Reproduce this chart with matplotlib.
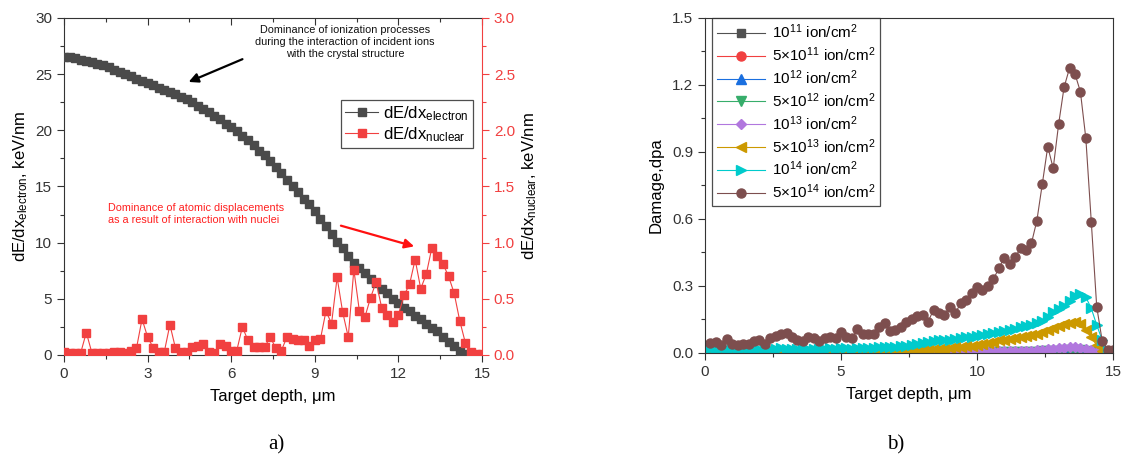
import numpy as np
import matplotlib
matplotlib.use("Agg")
import matplotlib.pyplot as plt
from matplotlib.ticker import MultipleLocator

plt.rcParams['font.family'] = ['Liberation Sans', 'DejaVu Sans']
plt.rcParams['mathtext.default'] = 'regular'

# ---------------- data: panel a) ----------------
depth_e = np.round(np.arange(0, 73) * 0.2, 1)          # 0.0 ... 14.4 um
dedx_electron = [26.5, 26.5, 26.4, 26.3, 26.2, 26.1, 25.9, 25.8, 25.6, 25.4,
                 25.2, 25.0, 24.8, 24.6, 24.4, 24.2, 24.0, 23.8, 23.6, 23.4,
                 23.2, 23.0, 22.8, 22.5, 22.2, 21.9, 21.6, 21.3, 21.0, 20.6,
                 20.3, 19.9, 19.5, 19.1, 18.7, 18.2, 17.8, 17.3, 16.7, 16.2,
                 15.6, 15.0, 14.5, 13.9, 13.4, 12.8, 12.1, 11.5, 10.8, 10.1,
                 9.5, 8.8, 8.2, 7.7, 7.3, 6.8, 6.4, 5.9, 5.5, 5.0,
                 4.6, 4.2, 3.9, 3.5, 3.2, 2.8, 2.4, 2.1, 1.6, 1.2,
                 0.8, 0.4, 0.1]
depth_n = np.round(np.arange(0, 76) * 0.2, 1)          # 0.0 ... 15.0 um
dedx_nuclear = [0.03, 0.02, 0.02, 0.02, 0.20, 0.02, 0.02, 0.02, 0.02, 0.03,
                0.03, 0.02, 0.04, 0.06, 0.32, 0.16, 0.065, 0.03, 0.03, 0.27,
                0.06, 0.03, 0.03, 0.07, 0.08, 0.10, 0.03, 0.02, 0.10, 0.08,
                0.04, 0.04, 0.25, 0.13, 0.07, 0.07, 0.07, 0.16, 0.06, 0.04,
                0.16, 0.14, 0.135, 0.135, 0.08, 0.135, 0.14, 0.39, 0.28, 0.69,
                0.38, 0.16, 0.76, 0.39, 0.34, 0.51, 0.65, 0.42, 0.36, 0.29,
                0.36, 0.53, 0.63, 0.85, 0.59, 0.72, 0.955, 0.88, 0.81, 0.70,
                0.55, 0.305, 0.11, 0.03, 0.01, 0.005]
x_ticks_a = [0, 3, 6, 9, 12, 15]

# ---------------- data: panel b) ----------------
depth_b = np.round(np.arange(1, 76) * 0.2, 1)          # 0.2 ... 15.0 um
fluence_labels = [r'10$^{11}$ ion/cm$^{2}$', r'5$\times$10$^{11}$ ion/cm$^{2}$',
                  r'10$^{12}$ ion/cm$^{2}$', r'5$\times$10$^{12}$ ion/cm$^{2}$',
                  r'10$^{13}$ ion/cm$^{2}$', r'5$\times$10$^{13}$ ion/cm$^{2}$',
                  r'10$^{14}$ ion/cm$^{2}$', r'5$\times$10$^{14}$ ion/cm$^{2}$']
dpa_1e11 = [0.0] * 60 + [0.0001, 0.0001, 0.0002, 0.0002, 0.0002, 0.0002, 0.0003,
                         0.0003, 0.0002, 0.0002, 0.0001, 0.0, 0.0, 0.0, 0.0]
dpa_5e11 = [0.0001] * 45 + [0.0001, 0.0001, 0.0001, 0.0002, 0.0002, 0.0002, 0.0002,
                            0.0002, 0.0002, 0.0003, 0.0003, 0.0003, 0.0003, 0.0004, 0.0005,
                            0.0006, 0.0008, 0.0009, 0.0008, 0.001, 0.0012, 0.0013, 0.0013,
                            0.0012, 0.001, 0.0006, 0.0002, 0.0001, 0.0, 0.0]
dpa_1e12 = [0.0001, 0.0001, 0.0001, 0.0001, 0.0001, 0.0001, 0.0001, 0.0001, 0.0001, 0.0001,
            0.0001, 0.0001, 0.0002, 0.0002, 0.0002, 0.0001, 0.0001, 0.0001, 0.0001, 0.0001,
            0.0001, 0.0001, 0.0001, 0.0001, 0.0002, 0.0001, 0.0001, 0.0002, 0.0002, 0.0002,
            0.0002, 0.0002, 0.0003, 0.0002, 0.0002, 0.0002, 0.0003, 0.0003, 0.0003, 0.0003,
            0.0003, 0.0004, 0.0004, 0.0004, 0.0004, 0.0004, 0.0004, 0.0005, 0.0005, 0.0006,
            0.0006, 0.0006, 0.0007, 0.0008, 0.0009, 0.0008, 0.0009, 0.0009, 0.0009, 0.001,
            0.0012, 0.0015, 0.0018, 0.0017, 0.0021, 0.0024, 0.0026, 0.0025, 0.0023, 0.0019,
            0.0012, 0.0004, 0.0001, 0.0, 0.0]
dpa_5e12 = [0.0005, 0.0005, 0.0004, 0.0006, 0.0004, 0.0004, 0.0004, 0.0004, 0.0006, 0.0006,
            0.0004, 0.0007, 0.0008, 0.0009, 0.0009, 0.0007, 0.0006, 0.0005, 0.0007, 0.0007,
            0.0005, 0.0007, 0.0007, 0.0007, 0.001, 0.0007, 0.0007, 0.0011, 0.0009, 0.0009,
            0.0009, 0.0012, 0.0014, 0.001, 0.001, 0.0012, 0.0014, 0.0015, 0.0017, 0.0017,
            0.0014, 0.0019, 0.0018, 0.0017, 0.0021, 0.0018, 0.0022, 0.0024, 0.0027, 0.0029,
            0.0028, 0.003, 0.0033, 0.0038, 0.0043, 0.004, 0.0043, 0.0047, 0.0046, 0.0049,
            0.0059, 0.0076, 0.0092, 0.0083, 0.0103, 0.0119, 0.0128, 0.0125, 0.0117, 0.0096,
            0.0059, 0.0021, 0.0006, 0.0001, 0.0001]
dpa_1e13 = [0.001, 0.001, 0.001, 0.001, 0.001, 0.001, 0.001, 0.001, 0.001, 0.001,
            0.001, 0.001, 0.002, 0.002, 0.002, 0.001, 0.001, 0.001, 0.001, 0.001,
            0.001, 0.001, 0.001, 0.001, 0.002, 0.001, 0.001, 0.002, 0.002, 0.002,
            0.002, 0.002, 0.003, 0.002, 0.002, 0.002, 0.003, 0.003, 0.003, 0.003,
            0.003, 0.004, 0.004, 0.004, 0.004, 0.004, 0.004, 0.005, 0.005, 0.006,
            0.006, 0.006, 0.007, 0.008, 0.009, 0.008, 0.009, 0.009, 0.009, 0.010,
            0.012, 0.015, 0.018, 0.017, 0.021, 0.024, 0.026, 0.025, 0.023, 0.019,
            0.012, 0.004, 0.001, 0.0, 0.0]
dpa_5e13 = [0.004, 0.004, 0.004, 0.005, 0.004, 0.004, 0.004, 0.004, 0.005, 0.005,
            0.004, 0.005, 0.005, 0.006, 0.006, 0.005, 0.005, 0.005, 0.005, 0.005,
            0.005, 0.005, 0.005, 0.006, 0.006, 0.006, 0.006, 0.007, 0.007, 0.007,
            0.008, 0.008, 0.009, 0.009, 0.009, 0.010, 0.011, 0.012, 0.013, 0.014,
            0.015, 0.016, 0.018, 0.020, 0.022, 0.025, 0.027, 0.030, 0.033, 0.036,
            0.040, 0.044, 0.050, 0.056, 0.060, 0.062, 0.066, 0.070, 0.074, 0.080,
            0.086, 0.095, 0.103, 0.112, 0.120, 0.130, 0.136, 0.138, 0.130, 0.105,
            0.070, 0.035, 0.010, 0.003, 0.002]
dpa_1e14 = [0.018, 0.017, 0.016, 0.018, 0.017, 0.016, 0.017, 0.016, 0.018, 0.017,
            0.016, 0.019, 0.020, 0.021, 0.020, 0.019, 0.018, 0.019, 0.020, 0.019,
            0.019, 0.020, 0.021, 0.020, 0.022, 0.021, 0.020, 0.023, 0.024, 0.023,
            0.024, 0.026, 0.028, 0.027, 0.028, 0.030, 0.032, 0.036, 0.040, 0.044,
            0.048, 0.052, 0.056, 0.058, 0.060, 0.064, 0.066, 0.070, 0.072, 0.076,
            0.080, 0.083, 0.088, 0.092, 0.100, 0.104, 0.108, 0.115, 0.120, 0.126,
            0.135, 0.145, 0.160, 0.185, 0.195, 0.210, 0.235, 0.255, 0.262, 0.250,
            0.200, 0.125, 0.058, 0.015, 0.005]
dpa_5e14 = [0.046, 0.048, 0.036, 0.061, 0.040, 0.036, 0.040, 0.040, 0.055, 0.058,
            0.040, 0.066, 0.076, 0.085, 0.088, 0.073, 0.058, 0.052, 0.073, 0.066,
            0.052, 0.066, 0.073, 0.066, 0.095, 0.073, 0.066, 0.106, 0.085, 0.085,
            0.085, 0.115, 0.136, 0.100, 0.103, 0.115, 0.138, 0.150, 0.166, 0.170,
            0.140, 0.193, 0.178, 0.170, 0.207, 0.178, 0.223, 0.237, 0.267, 0.294,
            0.282, 0.300, 0.330, 0.379, 0.427, 0.398, 0.429, 0.469, 0.461, 0.491,
            0.593, 0.757, 0.924, 0.827, 1.025, 1.190, 1.275, 1.250, 1.170, 0.961,
            0.588, 0.207, 0.055, 0.013, 0.013]
dpa_series = [dpa_1e11, dpa_5e11, dpa_1e12, dpa_5e12, dpa_1e13, dpa_5e13, dpa_1e14, dpa_5e14]

# ---------------- styles ----------------
colors_b = ['#515151', '#F14040', '#1A6FDF', '#37AD6B', '#B177DE', '#CC9900', '#00CBCC', '#7D4E4E']
markers_b = ['s', 'o', '^', 'v', 'D', '<', '>', 'o']
msizes_b = [5.5, 6.5, 6.5, 6.5, 5.5, 7, 7, 6.5]
C_BLACK = '#4a4a4a'
C_RED = '#F14040'
AX_COL = '#333333'
TICK_FS = 11
LABEL_FS = 12

fig = plt.figure(figsize=(11.21, 4.66), dpi=100)

# ================= panel a =================
ax1 = fig.add_axes([0.0571, 0.2382, 0.3729, 0.7232])
ax1r = ax1.twinx()
l1, = ax1.plot(depth_e, dedx_electron, '-s', color=C_BLACK, ms=5.8, lw=0.8,
               label=r'dE/dx$_{electron}$', zorder=3)
l2, = ax1r.plot(depth_n, dedx_nuclear, '-s', color=C_RED, ms=5.5, lw=0.8,
                label=r'dE/dx$_{nuclear}$', zorder=3)
ax1.set_xlim(0, 15)
ax1.set_ylim(0, 30)
ax1r.set_ylim(0, 3.0)
ax1.set_xticks(x_ticks_a)
ax1.xaxis.set_minor_locator(MultipleLocator(1.5))
ax1.yaxis.set_major_locator(MultipleLocator(5))
ax1.yaxis.set_minor_locator(MultipleLocator(2.5))
ax1r.yaxis.set_major_locator(MultipleLocator(0.5))
ax1r.yaxis.set_minor_locator(MultipleLocator(0.25))
ax1r.yaxis.set_major_formatter(matplotlib.ticker.FormatStrFormatter('%.1f'))

for sp in ['left', 'bottom', 'top']:
    ax1.spines[sp].set_color(AX_COL)
ax1r.spines['right'].set_color(C_RED)
for sp in ['left', 'bottom', 'top']:
    ax1r.spines[sp].set_visible(False)
ax1.spines['right'].set_visible(False)

ax1.tick_params(axis='both', which='major', direction='out', length=5, width=0.8,
                colors=AX_COL, labelsize=TICK_FS)
ax1.tick_params(axis='both', which='minor', direction='out', length=3, width=0.8, colors=AX_COL)
ax1.tick_params(axis='x', which='both', top=True, labeltop=False)
ax1r.tick_params(axis='y', which='major', direction='out', length=5, width=0.8,
                 colors=C_RED, labelsize=TICK_FS)
ax1r.tick_params(axis='y', which='minor', direction='out', length=3, width=0.8, colors=C_RED)
for t in ax1.xaxis.get_major_ticks() + ax1.xaxis.get_minor_ticks():
    t.tick2line.set_marker(matplotlib.lines.TICKDOWN)

ax1.set_xlabel('Target depth, μm', fontsize=LABEL_FS, labelpad=6)
ax1.set_ylabel(r'dE/dx$_{electron}$, keV/nm', fontsize=LABEL_FS, labelpad=4)
ax1r.set_ylabel(r'dE/dx$_{nuclear}$, keV/nm', fontsize=LABEL_FS, labelpad=4)

leg1 = ax1r.legend(handles=[l1, l2], loc='upper right', bbox_to_anchor=(0.978, 0.757),
                   fontsize=12, frameon=True, fancybox=False, edgecolor='#222222',
                   handlelength=2.0, borderpad=0.25, labelspacing=0.15, handletextpad=0.3,
                   borderaxespad=0)
leg1.get_frame().set_linewidth(0.9)

ax1r.text(0.672, 0.978, 'Dominance of ionization processes\nduring the interaction of incident ions\nwith the crystal structure',
          transform=ax1.transAxes, ha='center', va='top', fontsize=7.8, color='#111111',
          linespacing=1.25)
ax1r.annotate('', xy=(0.292, 0.807), xytext=(0.433, 0.881), xycoords=ax1.transAxes,
              textcoords=ax1.transAxes,
              arrowprops=dict(arrowstyle='-|>', color='black', lw=1.6, mutation_scale=14))
ax1r.text(0.105, 0.452, 'Dominance of atomic displacements\nas a result of interaction with nuclei',
          transform=ax1.transAxes, ha='left', va='top', fontsize=7.8, color='#FF2020',
          linespacing=1.25)
ax1r.annotate('', xy=(0.844, 0.320), xytext=(0.656, 0.386), xycoords=ax1.transAxes,
              textcoords=ax1.transAxes,
              arrowprops=dict(arrowstyle='-|>', color='#FF1010', lw=1.6, mutation_scale=14))

# ================= panel b =================
ax2 = fig.add_axes([0.6289, 0.2425, 0.3640, 0.7189])
for vals, lab, c, m, s in zip(dpa_series, fluence_labels, colors_b, markers_b, msizes_b):
    ax2.plot(depth_b, vals, '-', marker=m, color=c, ms=s, lw=0.8, label=lab)
ax2.set_xlim(0, 15)
ax2.set_ylim(0, 1.5)
ax2.xaxis.set_major_locator(MultipleLocator(5))
ax2.xaxis.set_minor_locator(MultipleLocator(2.5))
ax2.yaxis.set_major_locator(MultipleLocator(0.3))
ax2.yaxis.set_minor_locator(MultipleLocator(0.15))
ax2.yaxis.set_major_formatter(matplotlib.ticker.FormatStrFormatter('%.1f'))
for sp in ax2.spines.values():
    sp.set_color(AX_COL)
ax2.tick_params(axis='both', which='major', direction='out', length=5, width=0.8,
                colors=AX_COL, labelsize=TICK_FS)
ax2.tick_params(axis='both', which='minor', direction='out', length=3, width=0.8, colors=AX_COL)
ax2.set_xlabel('Target depth, μm', fontsize=LABEL_FS, labelpad=6)
ax2.set_ylabel('Damage,dpa', fontsize=LABEL_FS, labelpad=6)
leg2 = ax2.legend(loc='upper left', bbox_to_anchor=(0.017, 1.0), fontsize=11,
                  frameon=True, fancybox=False, edgecolor='#222222', handlelength=3.2,
                  borderpad=0.3, labelspacing=0.28, handletextpad=0.4, borderaxespad=0)
leg2.get_frame().set_linewidth(0.9)

# panel captions
fig.text(276 / 1121, 1 - 445 / 466, 'a)', ha='center', va='center', fontsize=15,
         family=['Liberation Serif', 'DejaVu Serif'])
fig.text(896 / 1121, 1 - 445 / 466, 'b)', ha='center', va='center', fontsize=15,
         family=['Liberation Serif', 'DejaVu Serif'])

fig.savefig('out.png', dpi=100)
